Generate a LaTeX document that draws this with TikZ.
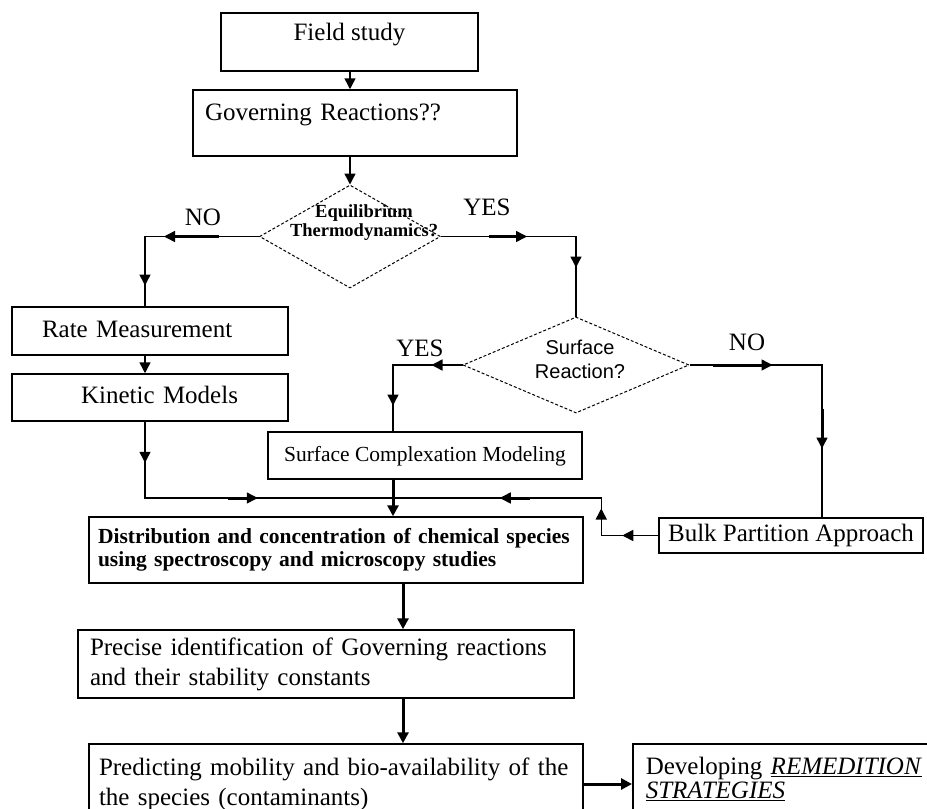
\documentclass[tikz,border=0pt]{standalone}
\usepackage{fontspec}
\setmainfont{Liberation Serif}
\newfontfamily\arialfont{Liberation Sans}
\usepackage{tikz}
\usetikzlibrary{shapes.geometric,arrows.meta,decorations.markings,calc}

\begin{document}
\begin{tikzpicture}[x=1pt, y=-1pt,
    box/.style={draw, line width=1.5pt, rectangle, inner ysep=0pt, font=\fontsize{25}{30}\selectfont},
    single/.style={box, text height=18pt, text depth=6pt},
    dia/.style={draw, diamond, line width=1pt, dash pattern=on 3pt off 2pt, inner sep=0pt},
    lbl/.style={font=\fontsize{25}{30}\selectfont},
    link/.style={line width=1.5pt},
    endtip/.style={-{Triangle[length=11pt,width=11pt]}},
    boldlink/.style={line width=3pt, endtip},
    midtip/.style={postaction={decorate, decoration={markings,
        mark=at position #1 with {\arrow{Triangle[length=11pt,width=11pt]}}}}},
    boldtip/.style 2 args={postaction={decorate, decoration={markings,
        mark=at position #1 with {\draw[line width=3pt] (-#2,0pt) -- (-8pt,0pt);
          \arrow{Triangle[length=11pt,width=11pt]}}}}}
]
    \useasboundingbox (0,0) rectangle (927,809);
    \fill[white] (0,0) rectangle (927,809);
    \clip (0,0) rectangle (927,809);

    % Field study and first question
    \node[single, minimum width=257pt, minimum height=58pt, text depth=22pt] (field) at (349.5,42) {Field study};
    \node[box, minimum width=324pt, minimum height=66pt, text width=300pt, inner xsep=12pt, align=left,
          text height=18pt, text depth=24pt] (gov) at (355,123) {Governing Reactions??};
    \node[dia, minimum width=181pt, minimum height=103pt] (equi) at (350,236.5) {};
    \node[font=\bfseries\fontsize{18.5}{19}\selectfont, align=center, inner sep=0pt] (equi-txt) at (364,223) {Equilibrium\\Thermodynamics?};
    \node[lbl] (no-a) at (203,217) {NO};
    \node[lbl] (yes-a) at (487,207) {YES};

    % Kinetic branch
    \node[single, minimum width=276pt, minimum height=48pt, text width=216pt, inner xsep=30pt, align=left] (rate) at (150,331) {Rate Measurement};
    \node[single, minimum width=276pt, minimum height=47pt, text width=176pt, inner xsep=50pt, align=right] (kin) at (150,397.5) {Kinetic Models};

    % Equilibrium branch
    \node[dia, minimum width=226pt, minimum height=96pt] (surf) at (576,365) {};
    \node[font=\arialfont\fontsize{20}{24}\selectfont, align=center, inner sep=0pt] (surf-txt) at (580,359) {Surface\\Reaction?};
    \node[lbl] (yes-b) at (420,348) {YES};
    \node[lbl] (no-b) at (747,342) {NO};
    \node[single, font=\fontsize{21.5}{25}\selectfont, minimum width=314pt, minimum height=47pt] (scm) at (425,455.5) {Surface Complexation Modeling};
    \node[single, minimum width=264pt, minimum height=35pt] (bulk) at (791,535.5) {Bulk Partition Approach};

    % Lower chain
    \node[box, font=\bfseries\fontsize{21.5}{23.5}\selectfont, minimum height=66pt, text width=476pt, inner xsep=9pt, align=left] (dist) at (336,550)
        {Distribution and concentration of chemical species\\using spectroscopy and microscopy studies};
    \node[box, minimum height=68pt, text width=472pt, inner xsep=12pt, align=left] (prec) at (326,664)
        {Precise identification of Governing reactions\\and their stability constants};
    \node[box, minimum height=80pt, text width=474pt, inner xsep=10pt, align=left] (pred) at (336,784)
        {Predicting mobility and bio-availability of the\\the species (contaminants)};
    \node[box, font=\fontsize{25}{24}\selectfont, text width=300pt, inner xsep=13pt, inner ysep=13pt, text depth=70pt,
          align=left, anchor=north west] (rem) at (632,743)
        {Developing \underline{\textit{REMEDITION}}\\\underline{\textit{STRATEGIES}}};

    \coordinate (join) at (393,498);
    \coordinate (spine) at (403,0);

    % Connectors
    \draw[link, endtip] (field.south -| equi.north) -- (gov.north -| equi.north);
    \draw[link, endtip] (gov.south -| equi.north) -- (equi.north);
    \draw[link, boldtip={95pt}{55pt}, midtip=163pt] (equi.west) -| ([xshift=-5pt]rate.north);
    \draw[link, boldtip={86pt}{38pt}, midtip=166pt] (equi.east) -| (surf.north);
    \draw[link, endtip] ([xshift=-5pt]rate.south) -- ([xshift=-5pt]kin.north);
    \draw[link, midtip=41pt, boldtip={189pt}{30pt}] ([xshift=-5pt]kin.south) |- (join);
    \draw[link, midtip=31pt, midtip=110pt] (surf.west) -| (scm.north -| join);
    \draw[link, boldtip={83pt}{60pt}, boldtip={216pt}{40pt}] (surf.east) -| ([xshift=31pt]bulk.north);
    \draw[link, midtip=36pt, midtip=84pt, boldtip={196pt}{30pt}] (bulk.west) -- ++(-57,0) |- (join);
    \draw[boldlink] (scm.south -| join) -- (dist.north -| join);
    \draw[boldlink] (dist.south -| spine) -- (prec.north -| spine);
    \draw[boldlink] (prec.south -| spine) -- (pred.north -| spine);
    \draw[boldlink] (pred.east) -- (pred.east -| rem.west);
\end{tikzpicture}
\end{document}
